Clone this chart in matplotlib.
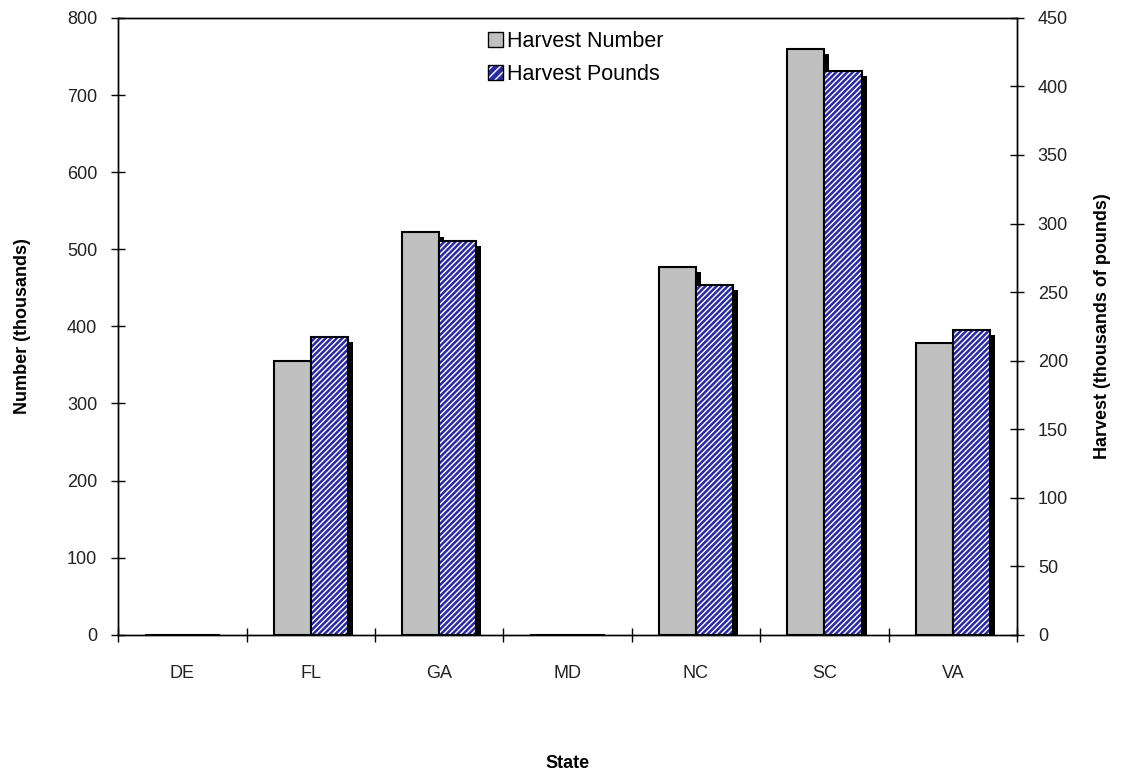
import numpy as np
import matplotlib
matplotlib.use("Agg")
import matplotlib.pyplot as plt
import matplotlib.transforms as mtransforms
from matplotlib.patches import Patch

plt.rcParams['font.family'] = ['Liberation Sans', 'DejaVu Sans']
plt.rcParams['hatch.linewidth'] = 1.0

states = ["DE", "FL", "GA", "MD", "NC", "SC", "VA"]
harvest_number = [0, 355, 522, 0, 477, 760, 378]      # thousands of fish
harvest_pounds = [0, 217, 287, 0, 255, 411, 222]      # thousands of pounds

gray = "#c0c0c0"
navy = "#2b2b9c"
w = 0.29
x = np.arange(len(states))

fig = plt.figure(figsize=(11.25, 7.78), dpi=100)
ax = fig.add_axes([0.105, 0.184, 0.799, 0.793])
ax2 = ax.twinx()


def shadow_bars(a, xs, vals):
    # solid black drop shadow, shifted right and down a few pixels
    off = mtransforms.ScaledTranslation(5 / 100, -5 / 100, fig.dpi_scale_trans)
    bars = a.bar(xs, vals, w, color="black", linewidth=0, zorder=1)
    for p in bars:
        p.set_transform(a.transData + off)


shadow_bars(ax, x - w / 2, harvest_number)
ax.bar(x - w / 2, harvest_number, w, color=gray, edgecolor="black", linewidth=1.5, zorder=2)

shadow_bars(ax2, x + w / 2, harvest_pounds)
ax2.bar(x + w / 2, harvest_pounds, w, color=navy, edgecolor="white", hatch="//////", linewidth=0, zorder=2)
ax2.bar(x + w / 2, harvest_pounds, w, fill=False, edgecolor="black", linewidth=1.5, zorder=3)

ax.set_xlim(-0.5, len(states) - 0.5)
ax.set_ylim(0, 800)
ax2.set_ylim(0, 450)
ax.set_yticks(np.arange(0, 801, 100))
ax2.set_yticks(np.arange(0, 451, 50))
ax.set_xticks(x)
ax.set_xticklabels(states)
ax.set_xticks(np.arange(-0.5, len(states), 1), minor=True)
ax.tick_params(axis="x", which="major", length=0, pad=22)
ax.tick_params(axis="x", which="minor", direction="inout", length=10, width=1)
ax.tick_params(axis="y", direction="inout", length=10, width=1, pad=10)
ax2.tick_params(axis="y", direction="inout", length=10, width=1, pad=10)
for a in (ax, ax2):
    a.tick_params(labelsize=13, labelcolor="#222222")
    for s in a.spines.values():
        s.set_linewidth(1.0)

ax.set_xlabel("State", fontsize=13, fontweight="bold", labelpad=52)
ax.set_ylabel("Number (thousands)", fontsize=13, fontweight="bold", labelpad=26)
ax2.set_ylabel("Harvest (thousands of pounds)", fontsize=13, fontweight="bold", labelpad=19)

h1 = Patch(facecolor=gray, edgecolor="black", linewidth=1)
h2 = (Patch(facecolor=navy, edgecolor="white", hatch="////", linewidth=0),
      Patch(fill=False, edgecolor="black", linewidth=1))
ax2.legend([h1, h2], ["Harvest Number", "Harvest Pounds"], loc="upper left",
           bbox_to_anchor=(0.39, 1.01), frameon=False, fontsize=15.5,
           handlelength=0.7, handleheight=0.7, handletextpad=0.2, labelspacing=0.55)

fig.savefig("out.png", dpi=100)
